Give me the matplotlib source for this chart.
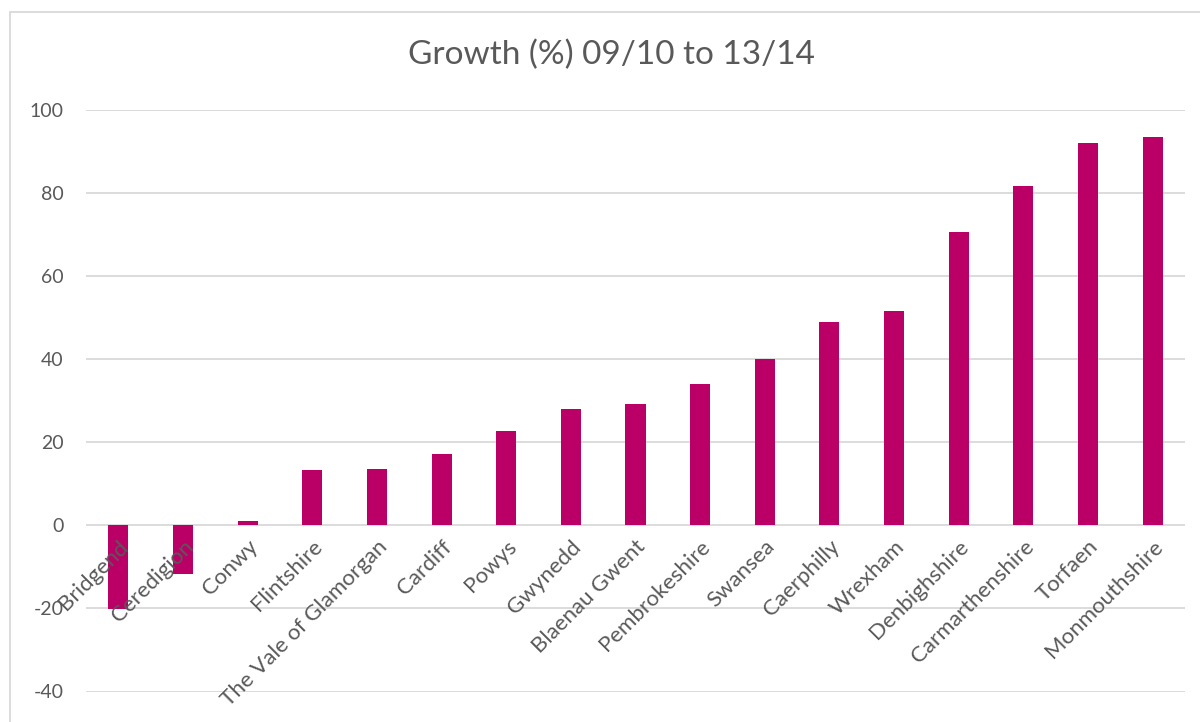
import matplotlib
matplotlib.use("Agg")
import matplotlib.pyplot as plt
from matplotlib.patches import Rectangle
from matplotlib.transforms import blended_transform_factory, offset_copy

categories = ["Bridgend", "Ceredigion", "Conwy", "Flintshire", "The Vale of Glamorgan",
              "Cardiff", "Powys", "Gwynedd", "Blaenau Gwent", "Pembrokeshire", "Swansea",
              "Caerphilly", "Wrexham", "Denbighshire", "Carmarthenshire", "Torfaen",
              "Monmouthshire"]
growth = [-20.1, -11.7, 1.1, 13.3, 13.5, 17.3, 22.8, 27.9, 29.1, 34.0, 40.0,
          49.0, 51.5, 70.6, 81.6, 92.0, 93.5]
y_ticks = [-40, -20, 0, 20, 40, 60, 80, 100]
title = "Growth (%) 09/10 to 13/14"

bar_color = "#BA0066"
grid_color = "#D9D9D9"
text_color = "#595959"

plt.rcParams["font.family"] = ["Lato", "DejaVu Sans"]

W, H = 1200, 722
fig = plt.figure(figsize=(W / 100, H / 100), dpi=100)

# chart-area border
fig.patches.append(Rectangle((10 / W, -0.1), 1.2, 1 - 11.5 / H + 0.1,
                             transform=fig.transFigure, fill=False,
                             edgecolor=grid_color, linewidth=1.3, zorder=0))

ax = fig.add_axes([86 / W, 1 - 691.5 / H, (1185 - 86) / W, (691.5 - 110) / H])
x = list(range(len(categories)))
ax.bar(x, growth, width=0.31, color=bar_color, zorder=3)

ax.set_xlim(-0.5, len(categories) - 0.5)
ax.set_ylim(-40, 100)
ax.set_yticks(y_ticks)
ax.set_yticklabels([str(v) for v in y_ticks], fontsize=14, color=text_color)
ax.tick_params(axis="y", length=0, pad=16)
ax.yaxis.grid(True, color=grid_color, linewidth=1.3, zorder=0)
for s in ["left", "right", "top", "bottom"]:
    ax.spines[s].set_visible(False)
ax.set_xticks([])

# category labels sit on the zero line, drawn over the bars
trans = offset_copy(blended_transform_factory(ax.transData, ax.transData),
                    fig=fig, x=0, y=-8, units="points")
for xi, name in zip(x, categories):
    ax.text(xi, 0, name, transform=trans, rotation=45, ha="right", va="top",
            rotation_mode="anchor", fontsize=16, color=text_color,
            zorder=5, clip_on=False)

fig.text(612 / W, 1 - 55 / H, title, ha="center", va="center",
         fontsize=24, color=text_color)

fig.savefig("out.png", dpi=100)
